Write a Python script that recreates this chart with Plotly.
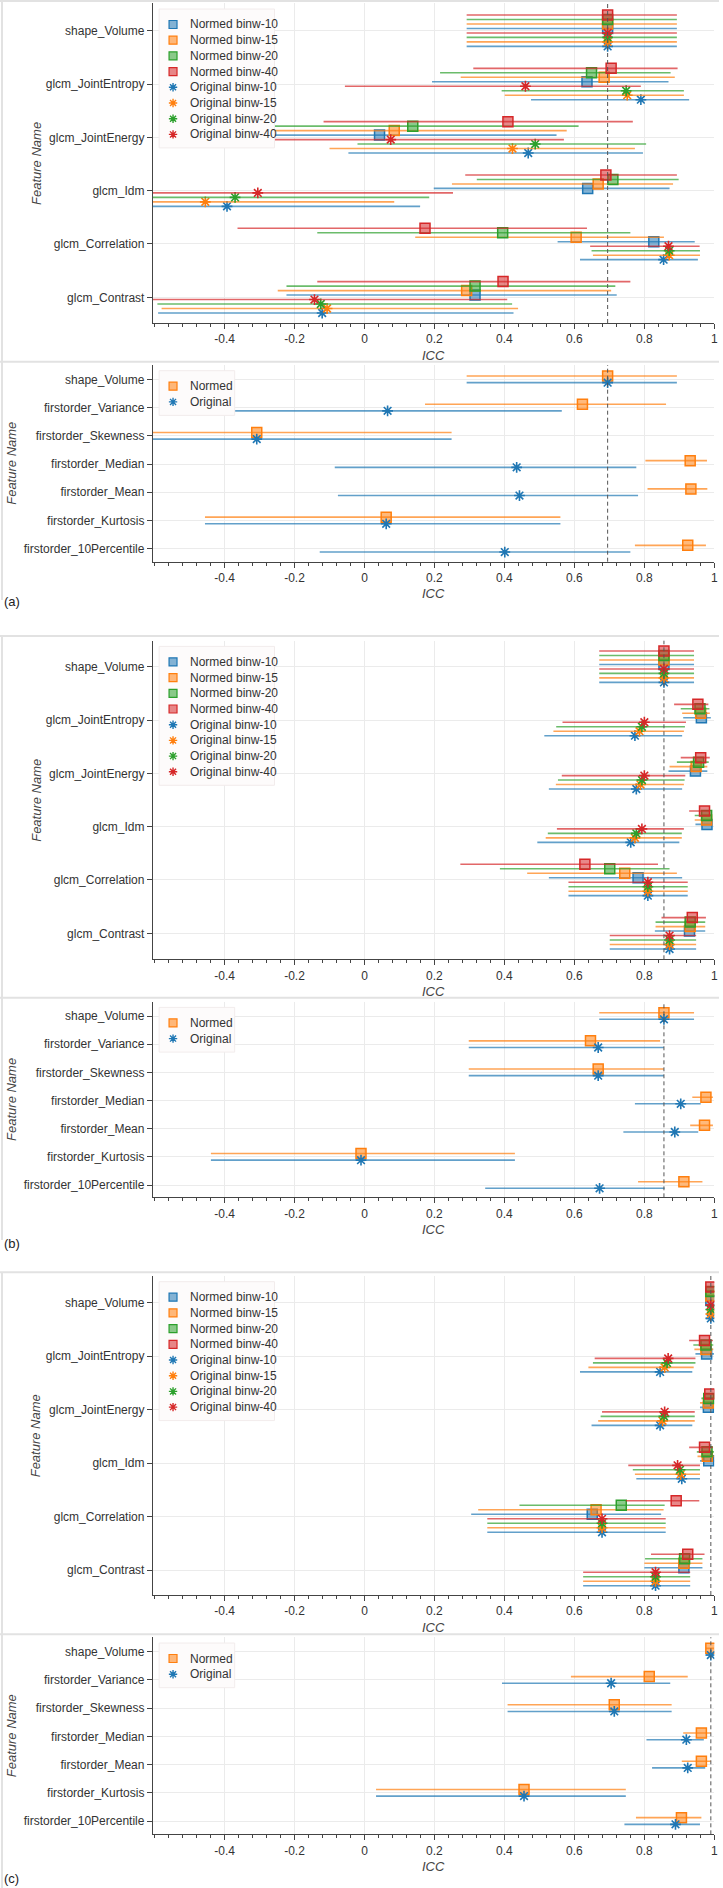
import plotly.graph_objects as go

W, H = 723, 1888
FONT = "Liberation Sans, Arial, sans-serif"

# ---------------- categories / labels ----------------
FEATURES_GLCM = ["shape_Volume", "glcm_JointEntropy", "glcm_JointEnergy",
                 "glcm_Idm", "glcm_Correlation", "glcm_Contrast"]
FEATURES_FIRST = ["shape_Volume", "firstorder_Variance", "firstorder_Skewness",
                  "firstorder_Median", "firstorder_Mean", "firstorder_Kurtosis",
                  "firstorder_10Percentile"]
GLCM_SERIES = ["Normed binw-10", "Normed binw-15", "Normed binw-20", "Normed binw-40",
               "Original binw-10", "Original binw-15", "Original binw-20", "Original binw-40"]
FIRST_SERIES = ["Normed", "Original"]
X_TICKS = [-0.4, -0.2, 0, 0.2, 0.4, 0.6, 0.8, 1]
X_TICK_LABELS = ["-0.4", "-0.2", "0", "0.2", "0.4", "0.6", "0.8", "1"]
PANEL_LABELS = ["(a)", "(b)", "(c)"]

# ---------------- panel (a) : glcm ----------------
A_N10_ICC = [0.695, 0.636, 0.043, 0.638, 0.827, 0.316]
A_N10_LO = [0.292, 0.193, -0.38, 0.198, 0.552, -0.223]
A_N10_HI = [0.893, 0.869, 0.549, 0.872, 0.944, 0.721]
A_N15_ICC = [0.695, 0.685, 0.085, 0.668, 0.605, 0.292]
A_N15_LO = [0.292, 0.275, -0.36, 0.25, 0.145, -0.248]
A_N15_HI = [0.893, 0.887, 0.578, 0.882, 0.856, 0.705]
A_N20_ICC = [0.695, 0.649, 0.138, 0.71, 0.395, 0.316]
A_N20_LO = [0.292, 0.216, -0.33, 0.321, -0.135, -0.223]
A_N20_HI = [0.893, 0.875, 0.612, 0.898, 0.76, 0.717]
A_N40_ICC = [0.695, 0.705, 0.41, 0.69, 0.173, 0.396]
A_N40_LO = [0.292, 0.311, -0.117, 0.288, -0.363, -0.135]
A_N40_HI = [0.893, 0.895, 0.767, 0.893, 0.636, 0.76]
A_O10_ICC = [0.695, 0.79, 0.468, -0.393, 0.855, -0.121]
A_O10_LO = [0.292, 0.476, -0.046, -0.8, 0.616, -0.59]
A_O10_HI = [0.893, 0.928, 0.796, 0.159, 0.953, 0.426]
A_O15_ICC = [0.695, 0.751, 0.423, -0.455, 0.871, -0.107]
A_O15_LO = [0.292, 0.401, -0.1, -0.85, 0.653, -0.58]
A_O15_HI = [0.893, 0.913, 0.773, 0.085, 0.959, 0.439]
A_O20_ICC = [0.695, 0.748, 0.488, -0.37, 0.871, -0.125]
A_O20_LO = [0.292, 0.392, -0.02, -0.78, 0.649, -0.592]
A_O20_HI = [0.893, 0.913, 0.805, 0.185, 0.959, 0.422]
A_O40_ICC = [0.695, 0.46, 0.075, -0.305, 0.869, -0.143]
A_O40_LO = [0.292, -0.056, -0.39, -0.72, 0.645, -0.62]
A_O40_HI = [0.893, 0.79, 0.57, 0.253, 0.958, 0.408]

# ---------------- panel (a) : firstorder ----------------
A_N_ICC = [0.695, 0.623, -0.308, 0.931, 0.933, 0.062, 0.924]
A_N_LO = [0.292, 0.173, -0.8, 0.803, 0.809, -0.456, 0.773]
A_N_HI = [0.893, 0.862, 0.249, 0.979, 0.98, 0.56, 0.976]
A_O_ICC = [0.695, 0.066, -0.308, 0.435, 0.443, 0.062, 0.401]
A_O_LO = [0.292, -0.371, -0.8, -0.085, -0.076, -0.456, -0.128]
A_O_HI = [0.893, 0.564, 0.249, 0.777, 0.782, 0.56, 0.76]

# ---------------- panel (b) : glcm ----------------
B_N10_ICC = [0.856, 0.963, 0.946, 0.979, 0.782, 0.929]
B_N10_LO = [0.671, 0.911, 0.869, 0.946, 0.527, 0.83]
B_N10_HI = [0.942, 0.99, 0.98, 0.993, 0.908, 0.974]
B_N15_ICC = [0.856, 0.961, 0.948, 0.978, 0.744, 0.931]
B_N15_LO = [0.671, 0.908, 0.872, 0.944, 0.465, 0.832]
B_N15_HI = [0.942, 0.987, 0.98, 0.992, 0.893, 0.974]
B_N20_ICC = [0.856, 0.959, 0.955, 0.978, 0.701, 0.931]
B_N20_LO = [0.671, 0.904, 0.893, 0.944, 0.387, 0.832]
B_N20_HI = [0.942, 0.986, 0.984, 0.992, 0.872, 0.974]
B_N40_ICC = [0.856, 0.953, 0.961, 0.972, 0.63, 0.937]
B_N40_LO = [0.671, 0.885, 0.904, 0.928, 0.274, 0.849]
B_N40_HI = [0.942, 0.983, 0.987, 0.987, 0.839, 0.976]
B_O10_ICC = [0.856, 0.773, 0.777, 0.761, 0.81, 0.872]
B_O10_LO = [0.671, 0.514, 0.527, 0.494, 0.583, 0.701]
B_O10_HI = [0.942, 0.908, 0.908, 0.9, 0.924, 0.948]
B_O15_ICC = [0.856, 0.786, 0.789, 0.773, 0.81, 0.872]
B_O15_LO = [0.671, 0.54, 0.547, 0.518, 0.583, 0.701]
B_O15_HI = [0.942, 0.913, 0.913, 0.907, 0.924, 0.948]
B_O20_ICC = [0.856, 0.793, 0.793, 0.777, 0.81, 0.872]
B_O20_LO = [0.671, 0.548, 0.553, 0.524, 0.583, 0.701]
B_O20_HI = [0.942, 0.916, 0.915, 0.907, 0.924, 0.948]
B_O40_ICC = [0.856, 0.8, 0.8, 0.793, 0.81, 0.872]
B_O40_LO = [0.671, 0.566, 0.564, 0.55, 0.583, 0.701]
B_O40_HI = [0.942, 0.919, 0.917, 0.913, 0.924, 0.948]

# ---------------- panel (b) : firstorder ----------------
B_N_ICC = [0.856, 0.646, 0.668, 0.976, 0.972, -0.01, 0.913]
B_N_LO = [0.671, 0.298, 0.298, 0.937, 0.931, -0.439, 0.782]
B_N_HI = [0.942, 0.845, 0.856, 0.996, 0.996, 0.43, 0.966]
B_O_ICC = [0.856, 0.668, 0.668, 0.904, 0.887, -0.01, 0.672]
B_O_LO = [0.671, 0.298, 0.298, 0.773, 0.74, -0.439, 0.345]
B_O_HI = [0.942, 0.856, 0.856, 0.961, 0.954, 0.43, 0.858]

# ---------------- panel (c) : glcm ----------------
C_N10_ICC = [0.99, 0.978, 0.983, 0.984, 0.651, 0.913]
C_N10_LO = [0.976, 0.946, 0.959, 0.959, 0.305, 0.8]
C_N10_HI = [0.999, 0.999, 0.999, 1.0, 0.848, 0.966]
C_N15_ICC = [0.99, 0.976, 0.983, 0.98, 0.662, 0.913]
C_N15_LO = [0.976, 0.943, 0.959, 0.952, 0.325, 0.8]
C_N15_HI = [0.999, 0.997, 0.999, 0.999, 0.855, 0.966]
C_N20_ICC = [0.99, 0.976, 0.984, 0.979, 0.734, 0.915]
C_N20_LO = [0.976, 0.94, 0.963, 0.95, 0.443, 0.802]
C_N20_HI = [0.999, 0.997, 0.999, 0.999, 0.858, 0.966]
C_N40_ICC = [0.99, 0.972, 0.987, 0.972, 0.891, 0.924]
C_N40_LO = [0.976, 0.928, 0.97, 0.928, 0.747, 0.819]
C_N40_HI = [0.999, 0.996, 0.999, 0.996, 0.957, 0.972]
C_O10_ICC = [0.99, 0.845, 0.845, 0.907, 0.679, 0.832]
C_O10_LO = [0.976, 0.616, 0.649, 0.777, 0.351, 0.625]
C_O10_HI = [0.999, 0.937, 0.937, 0.959, 0.861, 0.931]
C_O15_ICC = [0.99, 0.858, 0.852, 0.904, 0.679, 0.832]
C_O15_LO = [0.976, 0.64, 0.668, 0.773, 0.351, 0.625]
C_O15_HI = [0.999, 0.941, 0.944, 0.959, 0.861, 0.931]
C_O20_ICC = [0.99, 0.865, 0.856, 0.902, 0.679, 0.832]
C_O20_LO = [0.976, 0.653, 0.675, 0.767, 0.351, 0.625]
C_O20_HI = [0.999, 0.946, 0.944, 0.959, 0.861, 0.931]
C_O40_ICC = [0.99, 0.868, 0.858, 0.895, 0.679, 0.832]
C_O40_LO = [0.976, 0.658, 0.679, 0.754, 0.351, 0.625]
C_O40_HI = [0.999, 0.946, 0.944, 0.959, 0.861, 0.931]

# ---------------- panel (c) : firstorder ----------------
C_N_ICC = [0.99, 0.814, 0.714, 0.963, 0.963, 0.456, 0.906]
C_N_LO = [0.976, 0.59, 0.409, 0.911, 0.907, 0.033, 0.776]
C_N_HI = [0.999, 0.924, 0.878, 0.99, 0.99, 0.747, 0.963]
C_O_ICC = [0.99, 0.705, 0.714, 0.92, 0.924, 0.456, 0.889]
C_O_LO = [0.976, 0.393, 0.409, 0.806, 0.822, 0.033, 0.743]
C_O_HI = [0.999, 0.874, 0.878, 0.97, 0.974, 0.747, 0.959]

GLCM_DATA = [
    {"Normed binw-10": (A_N10_ICC, A_N10_LO, A_N10_HI), "Normed binw-15": (A_N15_ICC, A_N15_LO, A_N15_HI),
     "Normed binw-20": (A_N20_ICC, A_N20_LO, A_N20_HI), "Normed binw-40": (A_N40_ICC, A_N40_LO, A_N40_HI),
     "Original binw-10": (A_O10_ICC, A_O10_LO, A_O10_HI), "Original binw-15": (A_O15_ICC, A_O15_LO, A_O15_HI),
     "Original binw-20": (A_O20_ICC, A_O20_LO, A_O20_HI), "Original binw-40": (A_O40_ICC, A_O40_LO, A_O40_HI)},
    {"Normed binw-10": (B_N10_ICC, B_N10_LO, B_N10_HI), "Normed binw-15": (B_N15_ICC, B_N15_LO, B_N15_HI),
     "Normed binw-20": (B_N20_ICC, B_N20_LO, B_N20_HI), "Normed binw-40": (B_N40_ICC, B_N40_LO, B_N40_HI),
     "Original binw-10": (B_O10_ICC, B_O10_LO, B_O10_HI), "Original binw-15": (B_O15_ICC, B_O15_LO, B_O15_HI),
     "Original binw-20": (B_O20_ICC, B_O20_LO, B_O20_HI), "Original binw-40": (B_O40_ICC, B_O40_LO, B_O40_HI)},
    {"Normed binw-10": (C_N10_ICC, C_N10_LO, C_N10_HI), "Normed binw-15": (C_N15_ICC, C_N15_LO, C_N15_HI),
     "Normed binw-20": (C_N20_ICC, C_N20_LO, C_N20_HI), "Normed binw-40": (C_N40_ICC, C_N40_LO, C_N40_HI),
     "Original binw-10": (C_O10_ICC, C_O10_LO, C_O10_HI), "Original binw-15": (C_O15_ICC, C_O15_LO, C_O15_HI),
     "Original binw-20": (C_O20_ICC, C_O20_LO, C_O20_HI), "Original binw-40": (C_O40_ICC, C_O40_LO, C_O40_HI)},
]
FIRST_DATA = [
    {"Normed": (A_N_ICC, A_N_LO, A_N_HI), "Original": (A_O_ICC, A_O_LO, A_O_HI)},
    {"Normed": (B_N_ICC, B_N_LO, B_N_HI), "Original": (B_O_ICC, B_O_LO, B_O_HI)},
    {"Normed": (C_N_ICC, C_N_LO, C_N_HI), "Original": (C_O_ICC, C_O_LO, C_O_HI)},
]

# ---------------- styling ----------------
BIN_COLORS = {"10": "#1f77b4", "15": "#ff7f0e", "20": "#2ca02c", "40": "#d62728"}
FIRST_COLORS = {"Normed": "#ff7f0e", "Original": "#1f77b4"}


def rgba(h, a):
    h = h.lstrip("#")
    return "rgba(%d,%d,%d,%.2f)" % (int(h[0:2], 16), int(h[2:4], 16), int(h[4:6], 16), a)


def series_color(name):
    if name in FIRST_COLORS:
        return FIRST_COLORS[name]
    return BIN_COLORS[name.split("-")[-1]]


# top-to-bottom dodge order inside a category
GLCM_DODGE = ["Normed binw-40", "Normed binw-20", "Normed binw-15", "Normed binw-10",
              "Original binw-40", "Original binw-20", "Original binw-15", "Original binw-10"]
GLCM_STEP = 0.084
FIRST_DODGE = {"Normed": 0.118, "Original": -0.118}

# geometry in pixels: (axis top, axis bottom, top category, bottom category)
GEOM = [
    (3.3, 323.0, 30.7, 297.3),
    (365.0, 561.7, 379.3, 548.7),
    (640.7, 959.3, 666.7, 933.3),
    (1001.7, 1197.3, 1016.0, 1185.0),
    (1276.0, 1595.0, 1302.7, 1570.0),
    (1637.3, 1834.3, 1651.7, 1821.0),
]
FRAME_TOPS = [1.0, 361.7, 636.0, 997.7, 1272.3, 1634.3]
FRAME_BOTTOMS = [361.7, 600.0, 997.7, 1240.0, 1634.3, 1888.0]
PANEL_LABEL_Y = [601.7, 1243.0, 1878.0]
X0_PX, X1_PX = 153.7, 718.3
X_RANGE = [-0.605, 1.0]


def px(x, y):
    return x / W, 1 - y / H


fig = go.Figure()
layout = dict(width=W, height=H, margin=dict(l=0, r=0, t=0, b=0),
              paper_bgcolor="white", plot_bgcolor="white", showlegend=False,
              font=dict(family=FONT, size=12, color="#333"))
shapes = []
annotations = []

AX_COMMON = dict(showline=True, linecolor="#444", linewidth=1, ticks="outside", ticklen=5,
                 tickcolor="#444", tickwidth=1, zeroline=False, showgrid=True,
                 gridcolor="#ebebeb", gridwidth=1, ticklabeloverflow="allow",
                 tickfont=dict(family=FONT, size=12, color="#333"), fixedrange=True)

for k in range(6):
    panel = k // 2
    is_glcm = (k % 2 == 0)
    feats = FEATURES_GLCM if is_glcm else FEATURES_FIRST
    n = len(feats)
    at, ab, tc, bc = GEOM[k]
    unit = (bc - tc) / (n - 1)
    y_lo = -(ab - bc) / unit
    y_hi = (n - 1) + (tc - at) / unit
    suffix = "" if k == 0 else str(k + 1)
    xa, ya = "x" + suffix, "y" + suffix
    layout["xaxis" + suffix] = dict(
        AX_COMMON, domain=[X0_PX / W, X1_PX / W], range=X_RANGE, anchor=ya,
        tickmode="array", tickvals=X_TICKS, ticktext=X_TICK_LABELS,
        minor=dict(dtick=0.04, tick0=0, ticks="outside", ticklen=3, tickcolor="#444", showgrid=False))
    layout["yaxis" + suffix] = dict(
        AX_COMMON, domain=[1 - ab / H, 1 - at / H], range=[y_lo, y_hi], anchor=xa,
        tickmode="array", tickvals=[n - 1 - i for i in range(n)], ticktext=feats)

    base_y = [n - 1 - i for i in range(n)]
    if is_glcm:
        data = GLCM_DATA[panel]
        order = GLCM_SERIES
        offsets = {s: (3.5 - GLCM_DODGE.index(s)) * GLCM_STEP for s in GLCM_SERIES}
    else:
        data = FIRST_DATA[panel]
        order = FIRST_SERIES
        offsets = FIRST_DODGE

    for s in order:
        icc, lo, hi = data[s]
        col = series_color(s)
        normed = s.startswith("Normed")
        if normed:
            marker = dict(symbol="square", size=10, color=rgba(col, 0.55), line=dict(color=col, width=1.5))
        else:
            marker = dict(symbol="asterisk-open", size=9, color=col, line=dict(color=col, width=1.6))
        fig.add_trace(go.Scatter(
            x=icc, y=[b + offsets[s] for b in base_y], mode="markers", name=s,
            xaxis=xa, yaxis=ya, marker=marker,
            error_x=dict(type="data", symmetric=False,
                         array=[h - v for h, v in zip(hi, icc)],
                         arrayminus=[v - l for v, l in zip(icc, lo)],
                         color=rgba(col, 0.7), thickness=1.6, width=0)))

    # reference dashed line: ICC of shape_Volume (original)
    ref = FIRST_DATA[panel]["Original"][0][0]
    shapes.append(dict(type="line", xref=xa, yref=ya + " domain", x0=ref, x1=ref, y0=0, y1=1,
                       line=dict(color="#555", width=1, dash="4px,3px"), layer="above"))

    # frame lines around each sub-figure
    x0p, y0p = px(2, FRAME_TOPS[k])
    _, y1p = px(2, FRAME_BOTTOMS[k])
    shapes.append(dict(type="line", xref="paper", yref="paper", x0=0, x1=1, y0=y0p, y1=y0p,
                       line=dict(color="#e2e2e2", width=2), layer="below"))
    shapes.append(dict(type="line", xref="paper", yref="paper", x0=x0p, x1=x0p, y0=y0p, y1=y1p,
                       line=dict(color="#e2e2e2", width=2), layer="below"))

    # axis titles
    cx = (X0_PX + X1_PX) / 2
    tx, ty = px(cx, ab + 32)
    annotations.append(dict(text="<i>ICC</i>", x=tx, y=ty, xref="paper", yref="paper",
                            showarrow=False, xanchor="center", yanchor="middle",
                            font=dict(family=FONT, size=13, color="#444")))
    fx, fy = px(36 if is_glcm else 11.5, (at + ab) / 2)
    annotations.append(dict(text="<i>Feature Name</i>", x=fx, y=fy, xref="paper", yref="paper",
                            showarrow=False, textangle=-90, xanchor="center", yanchor="middle",
                            font=dict(family=FONT, size=13, color="#444")))

    # custom legend
    step = 15.7
    box_top = at + 5.7
    first_y = box_top + 15.5
    n_items = len(order)
    box_bottom = first_y + (n_items - 1) * step + 13.5
    box_right = 276 if is_glcm else 236
    bx0, by0 = px(160, box_top)
    bx1, by1 = px(box_right, box_bottom)
    shapes.append(dict(type="rect", xref="paper", yref="paper", x0=bx0, x1=bx1, y0=by1, y1=by0,
                       fillcolor="#fdfbfb", line=dict(color="#f2ecec", width=1), layer="above"))
    for j, s in enumerate(order):
        col = series_color(s)
        cy = first_y + j * step
        mx = 174
        if s.startswith("Normed"):
            a0 = px(mx - 4, cy - 4)
            a1 = px(mx + 4, cy + 4)
            shapes.append(dict(type="rect", xref="paper", yref="paper", x0=a0[0], x1=a1[0],
                               y0=a1[1], y1=a0[1], fillcolor=rgba(col, 0.55),
                               line=dict(color=col, width=1.2), layer="above"))
        else:
            r = 4.2
            rs = r * 0.72
            segs = [((mx, cy - r), (mx, cy + r)), ((mx - r, cy), (mx + r, cy)),
                    ((mx - rs, cy - rs), (mx + rs, cy + rs)), ((mx - rs, cy + rs), (mx + rs, cy - rs))]
            path = ""
            for p0, p1 in segs:
                q0, q1 = px(*p0), px(*p1)
                path += "M%.6f,%.6f L%.6f,%.6f " % (q0[0], q0[1], q1[0], q1[1])
            shapes.append(dict(type="path", xref="paper", yref="paper", path=path.strip(),
                               line=dict(color=col, width=1.4), layer="above"))
        lx, ly = px(189, cy)
        annotations.append(dict(text=s, x=lx, y=ly, xref="paper", yref="paper", showarrow=False,
                                xanchor="left", yanchor="middle",
                                font=dict(family=FONT, size=12, color="#333")))

for i, lab in enumerate(PANEL_LABELS):
    lx, ly = px(2, PANEL_LABEL_Y[i])
    annotations.append(dict(text=lab, x=lx, y=ly, xref="paper", yref="paper", showarrow=False,
                            xanchor="left", yanchor="middle",
                            font=dict(family=FONT, size=13, color="#222")))

layout["shapes"] = shapes
layout["annotations"] = annotations
fig.update_layout(**layout)
fig.write_html("out.html", config={"displayModeBar": False},
               post_script="document.body.style.margin='0px';document.body.style.overflow='hidden';")
